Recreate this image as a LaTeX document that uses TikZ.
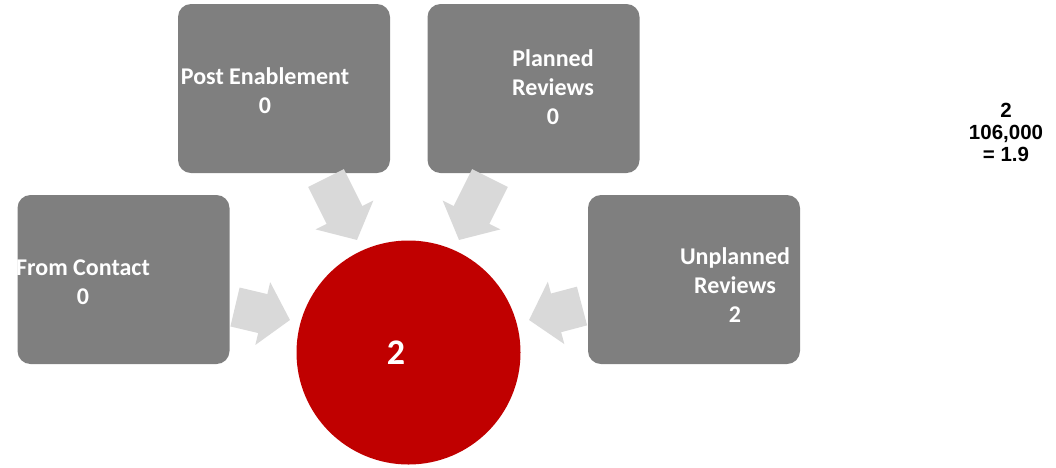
\documentclass[tikz,border=0pt]{standalone}
\usepackage{fontspec}
\setmainfont{Carlito}
\newfontfamily\arialfont{Liberation Sans}
\usetikzlibrary{arrows.meta}
\definecolor{boxgray}{HTML}{7F7F7F}
\definecolor{arrowgray}{HTML}{D9D9D9}
\definecolor{circred}{HTML}{C00000}
\tikzset{
  srcbox/.style={draw=none, fill=boxgray, rounded corners=13pt, minimum width=212pt, minimum height=169pt, inner sep=0pt},
  boxtext/.style={text=white, font=\bfseries\fontsize{24}{29}\selectfont, align=center, anchor=base, inner sep=0pt},
  blockarrow/.style={draw=arrowgray, line width=40pt, -{Triangle[length=28pt,width=63pt]}},
}
\begin{document}
\begin{tikzpicture}[x=1pt,y=-1pt]
\useasboundingbox (0,0) rectangle (1056,467);
% boxes
\node[srcbox] (pe) at (284,88.5) {};
\node[srcbox] (pr) at (533.5,88.5) {};
\node[srcbox] (fc) at (123.5,279.5) {};
\node[srcbox] (ur) at (694,279.5) {};
% circle
\node[circle, fill=circred, minimum size=224pt, inner sep=0pt] (c) at (408.5,352.5) {};
\node[text=white, font=\bfseries\fontsize{36}{40}\selectfont, inner sep=0pt] (cval) at (396,353) {2};
% texts (base anchor = baseline of the last line)
\node[boxtext] (pet) at (265,113) {Post Enablement\\0};
\node[boxtext] (prt) at (553,124) {Planned\\Reviews\\0};
\node[boxtext] (fct) at (83,304) {From Contact\\0};
\node[boxtext] (urt) at (735,322) {Unplanned\\Reviews\\2};
% arrows
\coordinate (a1s) at (326,178); \coordinate (a1e) at (357,240);
\coordinate (a2s) at (490,178); \coordinate (a2e) at (459,240);
\coordinate (a3s) at (235,307); \coordinate (a3e) at (290,320);
\coordinate (a4s) at (582,306); \coordinate (a4e) at (529,320);
\draw[blockarrow] (a1s) -- (a1e);
\draw[blockarrow] (a2s) -- (a2e);
\draw[blockarrow] (a3s) -- (a3e);
\draw[blockarrow] (a4s) -- (a4e);
% ratio text
\node[font=\arialfont\bfseries\fontsize{20.5}{22}\selectfont, align=center, anchor=base, inner sep=0pt] (ratio) at (1006,161) {2\\106,000\\= 1.9};
\end{tikzpicture}
\end{document}
